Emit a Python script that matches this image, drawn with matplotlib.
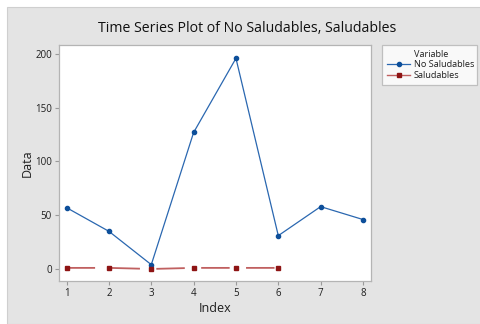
import matplotlib
matplotlib.use("Agg")
import matplotlib.pyplot as plt
from matplotlib.lines import Line2D
from matplotlib.patches import Rectangle

# data
index = [1, 2, 3, 4, 5, 6, 7, 8]
no_saludables = [57, 35, 4, 127, 196, 31, 58, 46]
index_sal = [1, 2, 3, 4, 5, 6]
saludables = [1, 1, 0, 1, 1, 1]

BLUE = "#2a67b0"
BLUE_MK = "#0d4f9a"
RED = "#c06060"
RED_MK = "#8e1414"
BG = "#e4e4e4"
EDGE = "#b4b4b4"
TXT = "#1e1e1e"

plt.rcParams.update({"font.family": ["Open Sans", "DejaVu Sans"], "font.size": 7})

W, H = 481, 324
fig = plt.figure(figsize=(W / 100, H / 100), dpi=100)
fig.patch.set_facecolor("white")
fig.add_artist(Rectangle((7 / W, 0), 1 - 7 / W, 1 - 7 / H, transform=fig.transFigure,
                         facecolor=BG, edgecolor="#cfcfcf", linewidth=0.8, zorder=0))

ax = fig.add_axes([59 / W, 43 / H, 312 / W, 236 / H])
ax.set_facecolor("white")

lw = 0.9
ax.plot(index, no_saludables, color=BLUE, linewidth=lw, marker="o", markersize=3.0,
        markerfacecolor=BLUE_MK, markeredgecolor=BLUE_MK, zorder=3)
ax.plot(index_sal, saludables, color=RED, linewidth=1.3, marker="s", markersize=3.4,
        markerfacecolor=RED_MK, markeredgecolor=RED_MK,
        linestyle=(0, (20.5 / 1.3, 11.8 / 1.3)), zorder=3)

ax.set_xlim(0.82, 8.19)
ax.set_ylim(-11.2, 208.4)
ax.set_xticks(index)
ax.set_yticks([0, 50, 100, 150, 200])
ax.tick_params(length=3, width=0.8, color="#9a9a9a", labelsize=7, labelcolor=TXT, pad=2)
for s in ("top", "right", "left", "bottom"):
    ax.spines[s].set_color(EDGE)
    ax.spines[s].set_linewidth(0.9)

ax.set_xlabel("Index", fontsize=9, color=TXT, labelpad=2)
ax.set_ylabel("Data", fontsize=9, color=TXT, labelpad=1)
fig.text(247 / W, 1 - 28 / H, "Time Series Plot of No Saludables, Saludables",
         ha="center", va="center", fontsize=10.2, color="#111111", fontweight="medium")

handles = [
    Line2D([], [], linestyle="none"),
    Line2D([], [], color=BLUE, linewidth=lw, marker="o", markersize=3.0,
           markerfacecolor=BLUE_MK, markeredgecolor=BLUE_MK),
    Line2D([], [], color=RED, linewidth=1.0, marker="s", markersize=3.4,
           markerfacecolor=RED_MK, markeredgecolor=RED_MK),
]
labels = ["Variable", "No Saludables", "Saludables"]
leg = fig.legend(handles, labels, loc="upper left",
                 bbox_to_anchor=(382 / W, 1 - 45 / H, 95 / W, 0.001),
                 mode="expand", fontsize=6.6, frameon=True, fancybox=False,
                 handlelength=2.5, handletextpad=0.4, borderpad=0.55,
                 labelspacing=0.18, borderaxespad=0)
leg.get_frame().set_edgecolor(EDGE)
leg.get_frame().set_linewidth(0.9)
for t in leg.get_texts():
    t.set_color(TXT)

fig.savefig("out.png", dpi=100)
